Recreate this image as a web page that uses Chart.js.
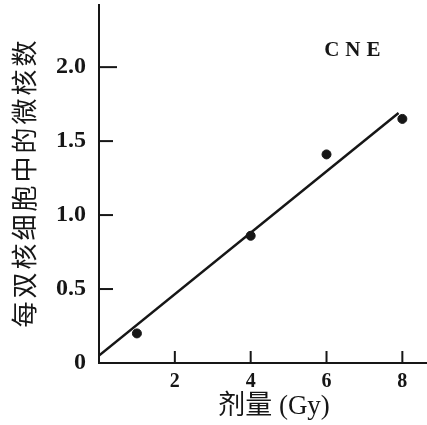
<!DOCTYPE html>
<html><head><meta charset="utf-8">
<script src="https://cdn.jsdelivr.net/npm/chart.js@4/dist/chart.umd.min.js"></script>
<style>html,body{margin:0;padding:0;background:#fff;}canvas{display:block;}</style>
</head><body>
<canvas id="c" width="427" height="425"></canvas>
<script>
const doses = [1, 4, 6, 8];
const micronuclei = [0.2, 0.86, 1.41, 1.65];
const fitDoses = [0, 7.9];
const fitValues = [0.05, 1.69];
const xTicks = [2, 4, 6, 8];
const yTicks = [0, 0.5, 1.0, 1.5, 2.0];
const xTitle = '剂量 (Gy)';
const yTitle = '每双核细胞中的微核数';
const seriesLabel = 'CNE';

const INK = '#161616';
const FONT = "'Liberation Serif', 'Noto Sans CJK SC', serif";

const decorations = {
  id: 'decorations',
  afterDatasetsDraw(chart) {
    const ctx = chart.ctx, xs = chart.scales.x, ys = chart.scales.y;
    const a = chart.chartArea;
    ctx.save();
    ctx.strokeStyle = INK;
    ctx.lineWidth = 2;
    xTicks.forEach(v => {
      const px = xs.getPixelForValue(v);
      ctx.beginPath(); ctx.moveTo(px, a.bottom); ctx.lineTo(px, a.bottom - 12); ctx.stroke();
    });
    yTicks.filter(v => v > 0).forEach(v => {
      const py = ys.getPixelForValue(v);
      ctx.beginPath(); ctx.moveTo(a.left, py); ctx.lineTo(a.left + (v === 2 ? 18 : 14), py); ctx.stroke();
    });
    ctx.fillStyle = INK;
    ctx.textAlign = 'center';
    ctx.textBaseline = 'middle';
    // series label
    ctx.font = "bold 21px " + FONT;
    ctx.letterSpacing = '6px';
    ctx.fillText(seriesLabel, xs.getPixelForValue(6.76), ys.getPixelForValue(2.115));
    // x title
    ctx.letterSpacing = '0px';
    ctx.font = "27px " + FONT;
    ctx.fillText(xTitle, 274, 407);
    // y title
    ctx.save();
    ctx.translate(27, 184);
    ctx.rotate(-Math.PI / 2);
    ctx.font = "26px " + FONT;
    ctx.letterSpacing = '3px';
    ctx.fillText(yTitle, 1.5, 0);
    ctx.restore();
    ctx.restore();
  }
};

new Chart(document.getElementById('c'), {
  type: 'scatter',
  data: {
    datasets: [
      {
        type: 'scatter',
        data: doses.map((d, i) => ({x: d, y: micronuclei[i]})),
        backgroundColor: INK, borderColor: INK,
        pointRadius: 4.5, pointHoverRadius: 4.5
      },
      {
        type: 'line',
        data: fitDoses.map((d, i) => ({x: d, y: fitValues[i]})),
        borderColor: INK, borderWidth: 2.5,
        pointRadius: 0, fill: false, showLine: true
      }
    ]
  },
  options: {
    responsive: false,
    animation: false,
    devicePixelRatio: 1,
    layout: {autoPadding: false, padding: {top: 5, right: 0, left: 0, bottom: 0}},
    plugins: {legend: {display: false}, tooltip: {enabled: false}},
    scales: {
      x: {
        type: 'linear', min: 0, max: 8.65,
        afterFit: s => { s.height = 62; s.paddingLeft = 0; s.paddingRight = 0; },
        afterBuildTicks: s => { s.ticks = xTicks.map(v => ({value: v})); },
        grid: {display: false, drawTicks: false},
        border: {display: true, color: INK, width: 2},
        ticks: {color: INK, padding: 7, font: {family: FONT, size: 20, weight: 'bold'}, callback: v => String(v)},
        title: {display: false}
      },
      y: {
        type: 'linear', min: 0, max: 2.42,
        afterFit: s => { s.width = 99; s.paddingTop = 0; s.paddingBottom = 0; },
        afterBuildTicks: s => { s.ticks = yTicks.map(v => ({value: v})); },
        grid: {display: false, drawTicks: false},
        border: {display: true, color: INK, width: 2},
        ticks: {color: INK, padding: 13, font: {family: FONT, size: 24, weight: 'bold'}, callback: v => v === 0 ? '0' : v.toFixed(1)},
        title: {display: false}
      }
    }
  },
  plugins: [decorations]
});
</script>
</body></html>
